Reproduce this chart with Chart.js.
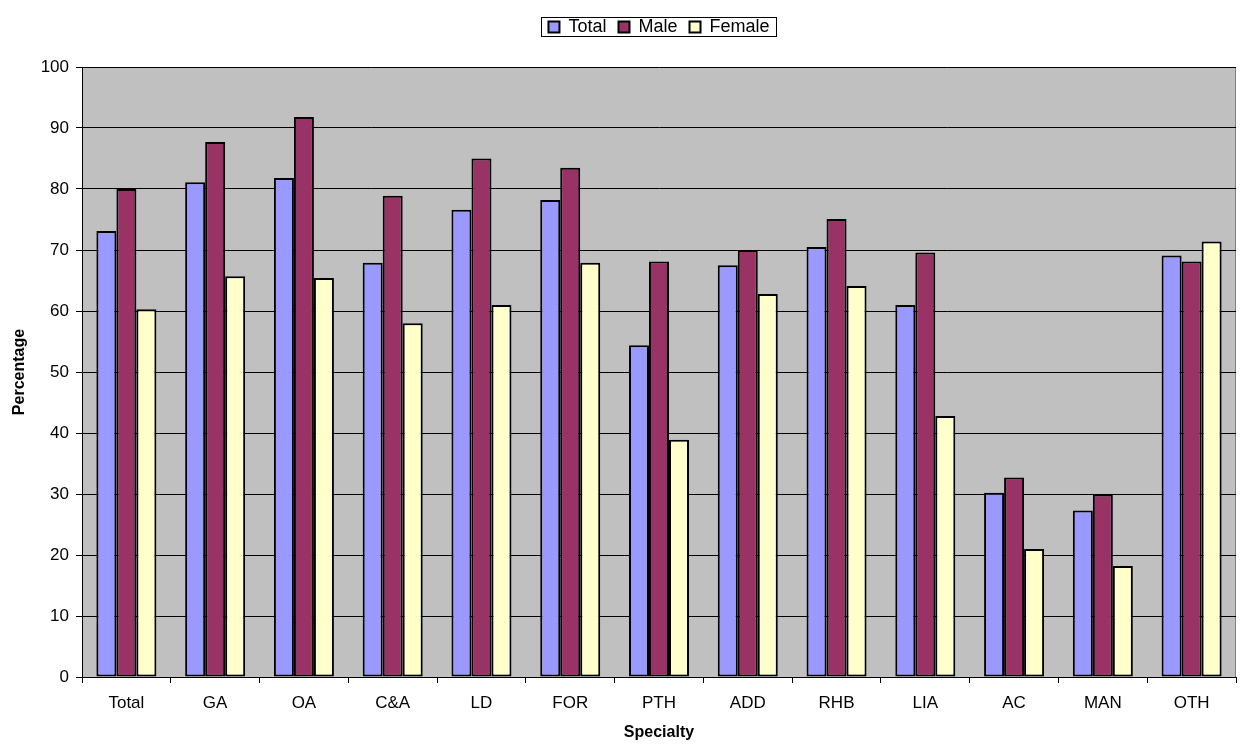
<!DOCTYPE html>
<html>
<head>
<meta charset="utf-8">
<script src="https://cdn.jsdelivr.net/npm/chart.js@4"></script>
<style>
  html, body { margin: 0; padding: 0; background: #fff; }
  #wrap { width: 1244px; height: 746px; }
</style>
</head>
<body>
<div id="wrap"><canvas id="chart" width="1244" height="746"></canvas></div>
<script>
// specialty categories and percentages
const specialties = ["Total", "GA", "OA", "C&A", "LD", "FOR", "PTH", "ADD", "RHB", "LIA", "AC", "MAN", "OTH"];
const totalValues  = [73.1, 81.1, 81.8, 67.9, 76.6, 78.2, 54.4, 67.5, 70.5, 61.0, 30.2, 27.3, 69.1];
const maleValues   = [80.0, 87.7, 91.8, 78.9, 85.0, 83.5, 68.1, 70.0, 75.1, 69.6, 32.7, 29.9, 68.1];
const femaleValues = [60.3, 65.7, 65.4, 58.0, 61.0, 67.9, 38.9, 62.8, 64.1, 42.8, 21.0, 18.2, 71.4];
const yTicks = [0, 10, 20, 30, 40, 50, 60, 70, 80, 90, 100];

const FONT = "'Liberation Sans', Arial, sans-serif";

// gray plot area, drawn before the bars
const plotBackground = {
    id: "plotBackground",
    beforeDraw(chart) {
        const { ctx, chartArea: a } = chart;
        ctx.save();
        ctx.fillStyle = "#C0C0C0";
        ctx.fillRect(a.left, a.top, a.right - a.left, a.bottom - a.top);
        ctx.strokeStyle = "#808080";
        ctx.lineWidth = 1;
        ctx.beginPath();
        ctx.moveTo(Math.round(a.right) - 0.5, a.top);
        ctx.lineTo(Math.round(a.right) - 0.5, a.bottom);
        ctx.stroke();
        ctx.restore();
    }
};

// legend: leave room below it, centre it over the plot, box round it
const legendBox = {
    id: "legendBox",
    beforeLayout(chart) {
        const lg = chart.legend;
        if (lg && !lg._roomPatched) {
            const fit = lg.fit.bind(lg);
            lg.fit = function () { fit(); this.height += 21; };
            lg._roomPatched = true;
        }
    },
    afterLayout(chart) {
        const lg = chart.legend;
        if (lg) {
            lg.left = chart.chartArea.left;
            lg.right = chart.chartArea.right;
            lg.width = lg.right - lg.left;
        }
    },
    afterDraw(chart) {
        const lg = chart.legend;
        if (!lg || !lg.legendHitBoxes.length) return;
        const boxes = lg.legendHitBoxes;
        const first = boxes[0], last = boxes[boxes.length - 1];
        const ctx = chart.ctx;
        ctx.save();
        ctx.strokeStyle = "#000";
        ctx.lineWidth = 1;
        const x1 = Math.round(first.left - 7) + 0.5;
        const x2 = Math.round(last.left + last.width + 6) + 0.5;
        const y1 = Math.round(first.top - 1) + 0.5;
        const y2 = Math.round(first.top + first.height + 0) + 0.5;
        ctx.strokeRect(x1, y1, x2 - x1, y2 - y1);
        ctx.restore();
    }
};

function series(label, data, color) {
    return {
        label: label,
        data: data,
        backgroundColor: color,
        borderColor: "#000",
        borderWidth: 2,
        borderSkipped: false
    };
}

new Chart(document.getElementById("chart"), {
    type: "bar",
    data: {
        labels: specialties,
        datasets: [
            series("Total", totalValues, "#9999FF"),
            series("Male", maleValues, "#993366"),
            series("Female", femaleValues, "#FFFFCC")
        ]
    },
    options: {
        responsive: false,
        animation: false,
        maintainAspectRatio: false,
        layout: { padding: { left: 0, right: 8, top: 6, bottom: 0 } },
        datasets: { bar: { categoryPercentage: 0.676, barPercentage: 1.0 } },
        plugins: {
            legend: {
                position: "top",
                labels: {
                    color: "#000",
                    font: { family: FONT, size: 18 },
                    boxWidth: 11,
                    boxHeight: 11,
                    padding: 12,
                    useBorderRadius: false
                }
            },
            tooltip: { enabled: false }
        },
        scales: {
            x: {
                grid: { display: true, drawOnChartArea: false, offset: true, color: "#000", tickLength: 6 },
                border: { color: "#000", width: 1 },
                ticks: { color: "#000", font: { family: FONT, size: 17 }, padding: 10, maxRotation: 0 },
                title: { display: true, text: "Specialty", color: "#000", font: { family: FONT, size: 16, weight: "bold" }, padding: { top: 10 } },
                afterFit(scale) { scale.height = 69; }
            },
            y: {
                min: 0,
                max: 100,
                afterBuildTicks(scale) { scale.ticks = yTicks.map(v => ({ value: v })); },
                grid: { color: "#000", lineWidth: 1, tickLength: 6 },
                border: { color: "#000", width: 1 },
                ticks: { color: "#000", font: { family: FONT, size: 17 }, padding: 7 },
                title: { display: true, text: "Percentage", color: "#000", font: { family: FONT, size: 16, weight: "bold" }, padding: { top: 10, bottom: 8 } },
                afterFit(scale) { scale.width = 82; }
            }
        }
    },
    plugins: [plotBackground, legendBox]
});
</script>
</body>
</html>
